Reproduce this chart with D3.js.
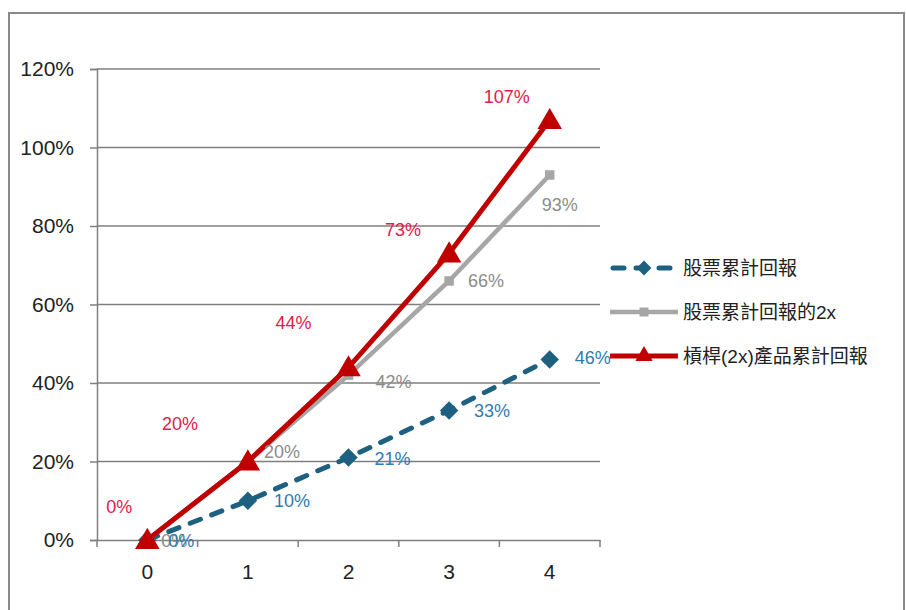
<!DOCTYPE html>
<html>
<head>
<meta charset="utf-8">
<script src="https://cdn.jsdelivr.net/npm/d3@7"></script>
<style>
  body { margin: 0; background: #fff; }
  svg text { font-family: "Liberation Sans", Arial, "Noto Sans CJK TC", sans-serif; }
</style>
</head>
<body>
<script>
// chart values
const periods = [0, 1, 2, 3, 4];
const stockReturn = [0, 10, 21, 33, 46];
const stockReturn2x = [0, 20, 42, 66, 93];
const leveragedReturn = [0, 20, 44, 73, 107];
const yTicks = [0, 20, 40, 60, 80, 100, 120];
const seriesNames = ["股票累計回報", "股票累計回報的2x", "槓桿(2x)產品累計回報"];

const width = 906, height = 610;
const margin = { top: 69, left: 97, right: 306, bottom: 70 };

const svg = d3.select("body").append("svg")
  .attr("width", width)
  .attr("height", height);

// outer chart frame
svg.append("rect")
  .attr("x", 9).attr("y", 13)
  .attr("width", 895).attr("height", 620)
  .attr("fill", "none")
  .attr("stroke", "#8a8a8a")
  .attr("stroke-width", 2);

const x = d3.scaleBand()
  .domain(periods)
  .range([margin.left, width - margin.right]);

const y = d3.scaleLinear()
  .domain([0, 120])
  .range([height - margin.bottom, margin.top]);

const cx = d => x(d) + x.bandwidth() / 2;

// gridlines
svg.append("g")
  .selectAll("line")
  .data(yTicks.filter(t => t > 0))
  .enter().append("line")
  .attr("x1", margin.left).attr("x2", width - margin.right)
  .attr("y1", d => y(d)).attr("y2", d => y(d))
  .attr("stroke", "#7f7f7f")
  .attr("stroke-width", 1.5);

// y axis
const yAxis = svg.append("g")
  .attr("transform", `translate(${margin.left},0)`)
  .call(d3.axisLeft(y).tickValues(yTicks).tickSize(7).tickPadding(16).tickFormat(d => d + "%"));
yAxis.select(".domain").attr("stroke", "#7f7f7f").attr("stroke-width", 1.5);
yAxis.selectAll(".tick line").attr("stroke", "#7f7f7f").attr("stroke-width", 1.5);
yAxis.selectAll("text").attr("font-size", 21).attr("fill", "#222");

// x axis
const xAxis = svg.append("g")
  .attr("transform", `translate(0,${y(0)})`)
  .call(d3.axisBottom(x).tickSize(0).tickPadding(24));
xAxis.select(".domain").attr("stroke", "#7f7f7f").attr("stroke-width", 1.5);
xAxis.selectAll("text").attr("font-size", 21).attr("fill", "#222");
xAxis.selectAll(".band-tick")
  .data(d3.range(periods.length + 1))
  .enter().append("line")
  .attr("x1", i => margin.left + i * x.step())
  .attr("x2", i => margin.left + i * x.step())
  .attr("y1", 0).attr("y2", 7)
  .attr("stroke", "#7f7f7f")
  .attr("stroke-width", 1.5);

const line = d3.line()
  .x((d, i) => cx(periods[i]))
  .y(d => y(d));

const diamond = d3.symbol().type(d3.symbolSquare).size(170);

// teal dashed series
const teal = "#1d6080";
svg.append("path")
  .attr("d", line(stockReturn))
  .attr("fill", "none")
  .attr("stroke", teal)
  .attr("stroke-width", 5)
  .attr("stroke-linecap", "round")
  .attr("stroke-dasharray", "11,12");
svg.selectAll(".m-teal")
  .data(stockReturn)
  .enter().append("path")
  .attr("class", "m-teal")
  .attr("transform", (d, i) => `translate(${cx(periods[i])},${y(d)}) rotate(45)`)
  .attr("d", diamond)
  .attr("fill", teal);

// gray series
const gray = "#a6a6a6";
svg.append("path")
  .attr("d", line(stockReturn2x))
  .attr("fill", "none")
  .attr("stroke", gray)
  .attr("stroke-width", 4.5);
svg.selectAll(".m-gray")
  .data(stockReturn2x)
  .enter().append("path")
  .attr("class", "m-gray")
  .attr("transform", (d, i) => `translate(${cx(periods[i])},${y(d)})`)
  .attr("d", d3.symbol().type(d3.symbolSquare).size(90))
  .attr("fill", gray);

// red series
const red = "#c00000";
svg.append("path")
  .attr("d", line(leveragedReturn))
  .attr("fill", "none")
  .attr("stroke", red)
  .attr("stroke-width", 5);
svg.selectAll(".m-red")
  .data(leveragedReturn)
  .enter().append("path")
  .attr("class", "m-red")
  .attr("transform", (d, i) => `translate(${cx(periods[i])},${y(d) + 2})`)
  .attr("d", d3.symbol().type(d3.symbolTriangle).size(260))
  .attr("fill", red);

// data labels (offsets are layout only)
const tealOffsets = [[34, 1], [44, 0], [44, 1], [43, 1], [43, -1]];
const grayOffsets = [[27, 1], [34, -10], [45, 7], [37, 0], [10, 30]];
const redOffsets = [[-28, -33], [-68, -38], [-55, -44], [-46, -23], [-43, -23]];

function addLabels(values, offsets, color) {
  svg.append("g").selectAll("text")
    .data(values)
    .enter().append("text")
    .attr("x", (d, i) => cx(periods[i]) + offsets[i][0])
    .attr("y", (d, i) => y(d) + offsets[i][1])
    .attr("text-anchor", "middle")
    .attr("dominant-baseline", "central")
    .attr("font-size", 18)
    .attr("fill", color)
    .text(d => d + "%");
}
addLabels(stockReturn2x, grayOffsets, "#8c8c8c");
addLabels(stockReturn, tealOffsets, "#2f7bb0");
addLabels(leveragedReturn, redOffsets, "#e0204a");

// legend
const legend = svg.append("g").attr("transform", "translate(610,268)");
const legendRows = [
  { color: teal, width: 5, dash: "11,12", cap: "round", rot: 45, symbol: d3.symbolSquare, size: 110 },
  { color: gray, width: 4.5, dash: null, cap: "butt", rot: 0, symbol: d3.symbolSquare, size: 80 },
  { color: red, width: 5, dash: null, cap: "butt", rot: 0, symbol: d3.symbolTriangle, size: 130 }
];
legendRows.forEach((r, i) => {
  const g = legend.append("g").attr("transform", `translate(0,${i * 44})`);
  g.append("line")
    .attr("x1", r.cap === "round" ? 3 : 0).attr("x2", r.cap === "round" ? 65 : 68)
    .attr("y1", 0).attr("y2", 0)
    .attr("stroke", r.color)
    .attr("stroke-width", r.width)
    .attr("stroke-linecap", r.cap)
    .attr("stroke-dasharray", r.dash);
  g.append("path")
    .attr("transform", `translate(34,0) rotate(${r.rot})`)
    .attr("d", d3.symbol().type(r.symbol).size(r.size))
    .attr("fill", r.color);
  g.append("text")
    .attr("x", 73).attr("y", 0)
    .attr("dominant-baseline", "central")
    .attr("font-size", 19)
    .attr("fill", "#222")
    .text(seriesNames[i]);
});
</script>
</body>
</html>
